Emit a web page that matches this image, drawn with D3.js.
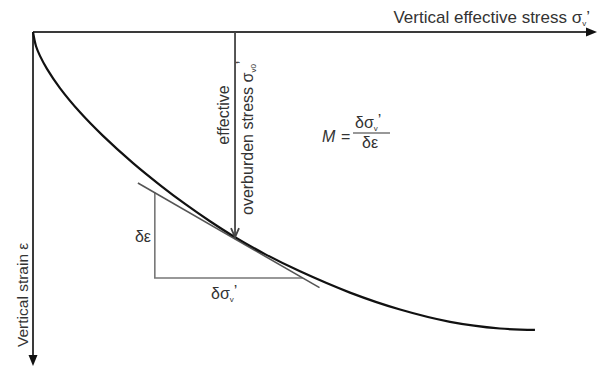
<!DOCTYPE html>
<html lang="en">
<head>
    <meta charset="UTF-8">
    <title>Constrained modulus from oedometer curve</title>
    <script src="https://d3js.org/d3.v7.min.js"></script>
    <style>
        body {
            margin: 0;
            background: #fff;
        }
        svg text {
            font-family: "Liberation Sans", Arial, sans-serif;
            fill: #333;
        }
    </style>
</head>
<body>
    <div id="chart"></div>

    <script>
        // Compression curve (stress in arbitrary units, strain in %)
        const stress = [0, 2.7, 6.2, 12.4, 23.9, 41.7, 62.1, 88.7, 112.6, 134.8, 156.9, 179.1, 205.7, 236.7, 281, 325.4, 369.7, 414, 445];
        const strain = [0, 0.43, 0.72, 1.11, 1.69, 2.42, 3.13, 3.95, 4.61, 5.18, 5.7, 6.18, 6.69, 7.21, 7.85, 8.36, 8.73, 8.93, 8.97];

        // in-situ effective overburden stress (tangent point)
        const sigmaV0 = 179.1;
        const strainV0 = 6.18;

        // tangent line end points
        const tangentStress = [93, 254];
        const tangentStrain = [4.55, 7.7];

        // slope triangle: corner stress and bottom strain
        const triStress = 108;
        const triStrain = 7.41;

        const width = 603, height = 372;
        const stressMax = 500, strainMax = 10;

        const svg = d3.select('#chart')
            .append('svg')
            .attr('width', width)
            .attr('height', height);

        const xScale = d3.scaleLinear().domain([0, stressMax]).range([33, 597]);
        const yScale = d3.scaleLinear().domain([0, strainMax]).range([32, 364]);

        const axisColor = '#3a3a3a';

        // Axes (plain arrows, no ticks)
        svg.append('line')
            .attr('x1', xScale(0)).attr('y1', yScale(0))
            .attr('x2', xScale(stressMax) - 8).attr('y2', yScale(0))
            .attr('stroke', axisColor).attr('stroke-width', 2);
        svg.append('path')
            .attr('d', `M${xScale(stressMax)},${yScale(0)} l-11,-4.5 l0,9 z`)
            .attr('fill', '#111');

        svg.append('line')
            .attr('x1', xScale(0)).attr('y1', yScale(0))
            .attr('x2', xScale(0)).attr('y2', yScale(strainMax) - 6)
            .attr('stroke', axisColor).attr('stroke-width', 2);
        svg.append('path')
            .attr('d', `M${xScale(0)},${yScale(strainMax) + 2} l-4.5,-11 l9,0 z`)
            .attr('fill', '#111');

        // Slope triangle
        const tSlope = (tangentStrain[1] - tangentStrain[0]) / (tangentStress[1] - tangentStress[0]);
        const triTop = tangentStrain[0] + (triStress - tangentStress[0]) * tSlope;
        const triRight = tangentStress[0] + (triStrain - tangentStrain[0]) / tSlope;
        svg.append('path')
            .attr('d', d3.line()([
                [xScale(triStress), yScale(triTop)],
                [xScale(triStress), yScale(triStrain)],
                [xScale(triRight), yScale(triStrain)]
            ]))
            .attr('fill', 'none')
            .attr('stroke', '#777')
            .attr('stroke-width', 1.6);

        // Tangent
        svg.append('line')
            .attr('x1', xScale(tangentStress[0])).attr('y1', yScale(tangentStrain[0]))
            .attr('x2', xScale(tangentStress[1])).attr('y2', yScale(tangentStrain[1]))
            .attr('stroke', '#555').attr('stroke-width', 1.6);

        // Curve
        const pts = stress.map((s, i) => [s, strain[i]]);
        svg.append('path')
            .datum(pts)
            .attr('fill', 'none')
            .attr('stroke', '#111')
            .attr('stroke-width', 2.2)
            .attr('d', d3.line()
                .x(d => xScale(d[0]))
                .y(d => yScale(d[1]))
                .curve(d3.curveCatmullRom.alpha(0.5)));

        // Overburden stress arrow
        const ax = xScale(sigmaV0), ayTip = yScale(strainV0);
        svg.append('line')
            .attr('x1', ax).attr('y1', yScale(0))
            .attr('x2', ax).attr('y2', ayTip - 1)
            .attr('stroke', '#444').attr('stroke-width', 1.8);
        svg.append('path')
            .attr('d', `M${ax - 4},${ayTip - 9} L${ax},${ayTip} L${ax + 4},${ayTip - 9}`)
            .attr('fill', 'none')
            .attr('stroke', '#444').attr('stroke-width', 1.8);

        // Labels
        const fs = 16;

        const xLabel = svg.append('text')
            .attr('x', 590).attr('y', 23)
            .attr('text-anchor', 'end')
            .style('font-size', '17px');
        xLabel.append('tspan').text('Vertical effective stress σ');
        xLabel.append('tspan').text('v').style('font-size', '8px').attr('dy', 3);
        xLabel.append('tspan').text('\u2019').attr('dy', -3);

        svg.append('text')
            .attr('transform', 'translate(28,347) rotate(-90)')
            .style('font-size', '15.5px')
            .text('Vertical strain ε');

        svg.append('text')
            .attr('transform', 'translate(229,115) rotate(-90)')
            .attr('text-anchor', 'middle')
            .style('font-size', fs + 'px')
            .text('effective');

        const ob = svg.append('text')
            .attr('transform', 'translate(253,215) rotate(-90)')
            .style('font-size', fs + 'px');
        ob.append('tspan').text('overburden stress σ');
        ob.append('tspan').text('v0').style('font-size', '8px').attr('dy', 3);
        ob.append('tspan').text('\u2019').attr('dy', -8);

        // Modulus formula
        svg.append('text')
            .attr('x', 322).attr('y', 142)
            .style('font-size', fs + 'px')
            .style('font-style', 'italic')
            .text('M');
        svg.append('text')
            .attr('x', 341).attr('y', 142)
            .style('font-size', fs + 'px')
            .text('=');
        const num = svg.append('text')
            .attr('x', 355).attr('y', 128)
            .style('font-size', fs + 'px');
        num.append('tspan').text('δσ');
        num.append('tspan').text('v').style('font-size', '8px').attr('dy', 3);
        num.append('tspan').text('\u2019').attr('dy', -5);
        svg.append('line')
            .attr('x1', 353).attr('y1', 133)
            .attr('x2', 390).attr('y2', 133)
            .attr('stroke', '#333').attr('stroke-width', 1.2);
        svg.append('text')
            .attr('x', 370).attr('y', 148)
            .attr('text-anchor', 'middle')
            .style('font-size', fs + 'px')
            .text('δε');

        // Triangle labels
        svg.append('text')
            .attr('x', 151).attr('y', 242)
            .attr('text-anchor', 'end')
            .style('font-size', fs + 'px')
            .text('δε');
        const ds = svg.append('text')
            .attr('x', 211).attr('y', 299)
            .style('font-size', fs + 'px');
        ds.append('tspan').text('δσ');
        ds.append('tspan').text('v').style('font-size', '8px').attr('dy', 3);
        ds.append('tspan').text('\u2019').attr('dy', -5);
    </script>
</body>
</html>
